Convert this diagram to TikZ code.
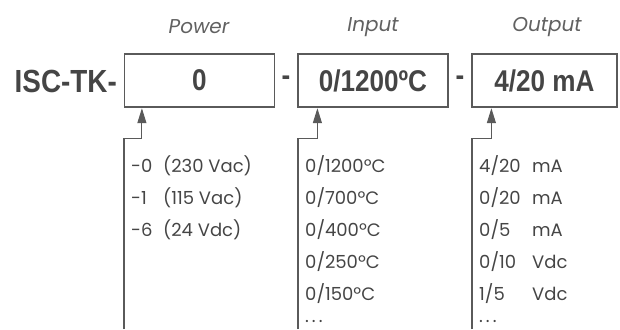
\documentclass[tikz,border=0pt]{standalone}
\usepackage{fontspec}
\setmainfont{Poppins}
\newfontfamily\boldf[FakeStretch=0.87]{Liberation Sans Bold}
\usetikzlibrary{arrows.meta,positioning,calc}
\definecolor{ink}{HTML}{454545}
\definecolor{wire}{HTML}{5A5A5A}
\tikzstyle{slot}=[draw=wire, line width=1.2pt, minimum width=150pt, minimum height=53pt, inner sep=0pt, font=\boldf\fontsize{30}{32}\selectfont, text=ink]
\tikzstyle{head}=[font=\itshape\fontsize{20}{22}\selectfont, text=ink!85]
\tikzstyle{item}=[anchor=base west, inner sep=0pt, font=\fontsize{18}{20}\selectfont, text=ink]
\tikzstyle{lead}=[draw=wire, line width=1.1pt, -{Triangle[width=9pt,length=15pt]}]

\begin{document}
\begin{tikzpicture}[x=1pt,y=-1pt]
				\clip(0,0)rectangle(620,329);
				\useasboundingbox(0,0)rectangle(620,329);
				\node[anchor=east, inner sep=0pt, font=\boldf\fontsize{32}{34}\selectfont, text=ink](code)at(117,81){ISC-TK-};
				\node[slot](pow)at(199.5,80.5){0};
				\node[slot](inp)at(373,80.5){0/1200ºC};
				\node[slot, minimum width=145pt](out)at(544.5,80.5){4/20 mA};
				\node[font=\boldf\fontsize{30}{32}\selectfont, text=ink](d1)at(286,81){-};
				\node[font=\boldf\fontsize{30}{32}\selectfont, text=ink](d2)at(460,81){-};
				\node[head](hpow)at(199,27){Power};
				\node[head](hinp)at(373,27){Input};
				\node[head](hout)at(547,27){Output};
				% leads from the lists up to the boxes
				\coordinate(ppow)at(124,329);
				\coordinate(pinp)at(298,329);
				\coordinate(pout)at(472,329);
				\draw[lead](ppow)|-($(pow.south west)+(18,31)$)--($(pow.south west)+(18,0.6)$);
				\draw[lead](pinp)|-($(inp.south west)+(20,31)$)--($(inp.south west)+(20,0.6)$);
				\draw[lead](pout)|-($(out.south west)+(20,31)$)--($(out.south west)+(20,0.6)$);
				% power codes
				\foreach \c/\v [count=\i] in {-0/230 Vac,-1/115 Vac,-6/24 Vdc}
					\node[item](p\i)at(131,140+32*\i){\makebox[32pt][l]{\c}(\v)};
				% input ranges
				\foreach \v [count=\i] in {{0/1200ºC},{0/700ºC},{0/400ºC},{0/250ºC},{0/150ºC}}
					\node[item](i\i)at(305,140+32*\i){\v};
				\node[item, text depth=0pt](i6)at(305,322){.\,.\,.};
				% output signals
				\foreach \c/\u [count=\i] in {{4/20}/mA,{0/20}/mA,{0/5}/mA,{0/10}/Vdc,{1/5}/Vdc}
					\node[item](o\i)at(479,140+32*\i){\makebox[53pt][l]{\c}\u};
				\node[item, text depth=0pt](o6)at(479,322){.\,.\,.};
			\end{tikzpicture}
\end{document}
